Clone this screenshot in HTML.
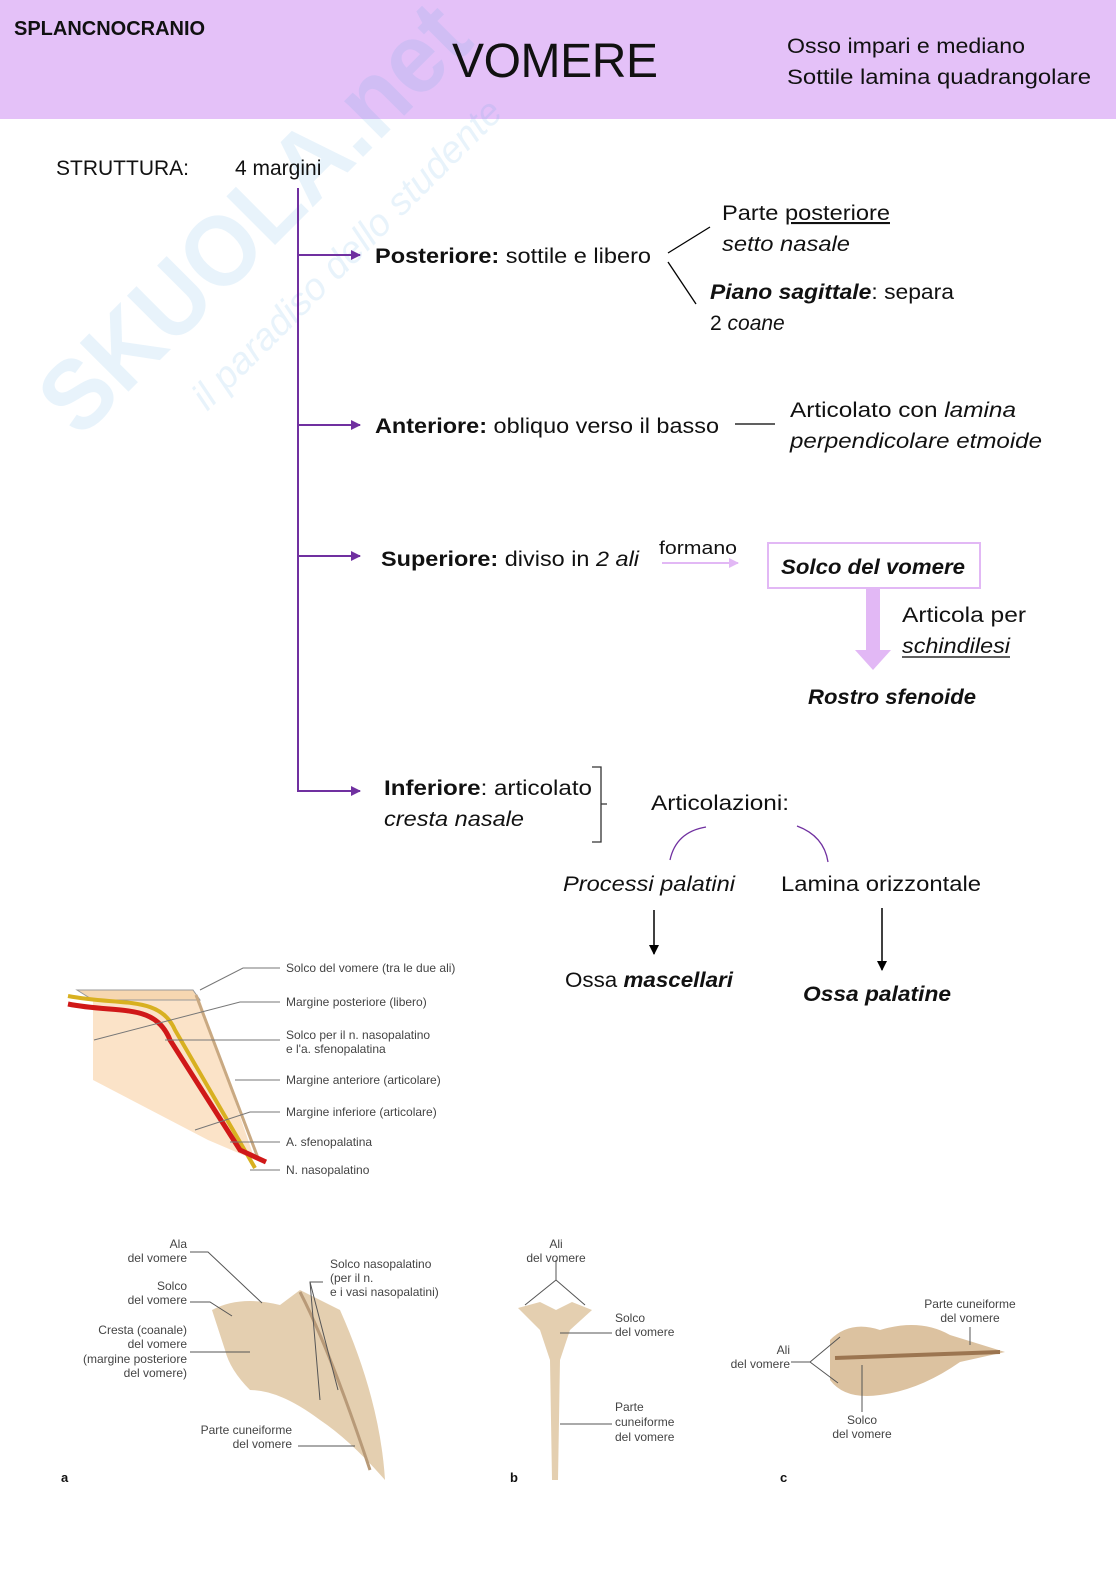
<!DOCTYPE html>
<html><head><meta charset="utf-8"><style>
html,body{margin:0;padding:0;background:#fff}
svg{display:block}
text{font-family:"Liberation Sans",sans-serif;fill:#111}
.b{font-size:21px}
.s{font-size:12px;fill:#444}
</style></head><body>
<svg width="1116" height="1578" viewBox="0 0 1116 1578" xmlns="http://www.w3.org/2000/svg">
<defs>
<marker id="pa" markerWidth="10" markerHeight="10" refX="9" refY="5" orient="auto" markerUnits="userSpaceOnUse"><path d="M0,0 L10,5 L0,10 z" fill="#7030a0"/></marker>
<marker id="ka" markerWidth="10" markerHeight="10" refX="9" refY="5" orient="auto" markerUnits="userSpaceOnUse"><path d="M0,0 L10,5 L0,10 z" fill="#000"/></marker>
<marker id="la" markerWidth="10" markerHeight="10" refX="9" refY="5" orient="auto" markerUnits="userSpaceOnUse"><path d="M0,0 L10,5 L0,10 z" fill="#e2b8f5"/></marker>
</defs>
<rect x="0" y="0" width="1116" height="119" fill="#e4c1f8"/>
<!-- watermark -->
<g transform="translate(80,440) rotate(-45)" opacity="0.12">
<text x="0" y="0" style="font-size:100px;font-weight:bold;fill:#4aa3df" textLength="560" lengthAdjust="spacingAndGlyphs">SKUOLA.net</text>
<text x="110" y="70" style="font-size:38px;font-style:italic;fill:#4aa3df">il paradiso dello studente</text>
</g>
<text x="14" y="35" style="font-size:20px;font-weight:bold">SPLANCNOCRANIO</text>
<text x="452" y="77" style="font-size:48px" textLength="206">VOMERE</text>
<text x="787" y="53" class="b" textLength="238" lengthAdjust="spacingAndGlyphs">Osso impari e mediano</text>
<text x="787" y="84" class="b" textLength="304" lengthAdjust="spacingAndGlyphs">Sottile lamina quadrangolare</text>
<text x="56" y="175" class="b">STRUTTURA:</text>
<text x="235" y="175" class="b">4 margini</text>
<!-- tree -->
<g stroke="#7030a0" stroke-width="2" fill="none">
<line x1="298" y1="188" x2="298" y2="792"/>
<line x1="298" y1="255" x2="360" y2="255" marker-end="url(#pa)"/>
<line x1="298" y1="425" x2="360" y2="425" marker-end="url(#pa)"/>
<line x1="298" y1="556" x2="360" y2="556" marker-end="url(#pa)"/>
<line x1="298" y1="791" x2="360" y2="791" marker-end="url(#pa)"/>
</g>
<text x="375" y="263" class="b" textLength="276" lengthAdjust="spacingAndGlyphs"><tspan font-weight="bold">Posteriore:</tspan> sottile e libero</text>
<line x1="668" y1="253" x2="710" y2="227" stroke="#000" stroke-width="1.3"/>
<line x1="668" y1="262" x2="696" y2="304" stroke="#000" stroke-width="1.3"/>
<text x="722" y="220" class="b" textLength="168" lengthAdjust="spacingAndGlyphs">Parte <tspan text-decoration="underline">posteriore</tspan></text>
<text x="722" y="251" class="b" font-style="italic" textLength="128" lengthAdjust="spacingAndGlyphs">setto nasale</text>
<text x="710" y="299" class="b" textLength="244" lengthAdjust="spacingAndGlyphs"><tspan font-weight="bold" font-style="italic">Piano sagittale</tspan>: separa</text>
<text x="710" y="330" class="b">2 <tspan font-style="italic">coane</tspan></text>
<text x="375" y="433" class="b" textLength="344" lengthAdjust="spacingAndGlyphs"><tspan font-weight="bold">Anteriore:</tspan> obliquo verso il basso</text>
<line x1="735" y1="424" x2="775" y2="424" stroke="#000" stroke-width="1.3"/>
<text x="790" y="417" class="b" textLength="226" lengthAdjust="spacingAndGlyphs">Articolato con <tspan font-style="italic">lamina</tspan></text>
<text x="790" y="448" class="b" font-style="italic" textLength="252" lengthAdjust="spacingAndGlyphs">perpendicolare etmoide</text>
<text x="381" y="566" class="b" textLength="258" lengthAdjust="spacingAndGlyphs"><tspan font-weight="bold">Superiore:</tspan> diviso in <tspan font-style="italic">2 ali</tspan></text>
<text x="659" y="554" style="font-size:18px" textLength="78" lengthAdjust="spacingAndGlyphs">formano</text>
<line x1="662" y1="563" x2="738" y2="563" stroke="#e2b8f5" stroke-width="2" marker-end="url(#la)"/>
<rect x="768" y="543" width="212" height="45" fill="none" stroke="#e2b8f5" stroke-width="2"/>
<text x="781" y="574" class="b" font-weight="bold" font-style="italic" textLength="184" lengthAdjust="spacingAndGlyphs">Solco del vomere</text>
<rect x="866" y="589" width="14" height="62" fill="#e2b8f5"/>
<path d="M855,650 L891,650 L873,670 z" fill="#e2b8f5"/>
<text x="902" y="622" class="b" textLength="124" lengthAdjust="spacingAndGlyphs">Articola per</text>
<text x="902" y="653" class="b" font-style="italic" textLength="108" lengthAdjust="spacingAndGlyphs">schindilesi</text>
<line x1="902" y1="657" x2="1010" y2="657" stroke="#000" stroke-width="1.2"/>
<text x="808" y="704" class="b" font-weight="bold" font-style="italic" textLength="168" lengthAdjust="spacingAndGlyphs">Rostro sfenoide</text>
<text x="384" y="795" class="b" textLength="208" lengthAdjust="spacingAndGlyphs"><tspan font-weight="bold">Inferiore</tspan>: articolato</text>
<text x="384" y="826" class="b" font-style="italic" textLength="140" lengthAdjust="spacingAndGlyphs">cresta nasale</text>
<path d="M592,767 L601,767 L601,842 L592,842 M601,804 L607,804" stroke="#333" stroke-width="1.3" fill="none"/>
<text x="651" y="810" class="b" textLength="138" lengthAdjust="spacingAndGlyphs">Articolazioni:</text>
<path d="M670,860 Q676,832 706,827" stroke="#7030a0" stroke-width="1.3" fill="none"/>
<path d="M797,826 Q824,836 828,862" stroke="#7030a0" stroke-width="1.3" fill="none"/>
<text x="563" y="891" class="b" font-style="italic" textLength="172" lengthAdjust="spacingAndGlyphs">Processi palatini</text>
<text x="781" y="891" class="b" textLength="200" lengthAdjust="spacingAndGlyphs">Lamina orizzontale</text>
<line x1="654" y1="910" x2="654" y2="954" stroke="#000" stroke-width="1.5" marker-end="url(#ka)"/>
<line x1="882" y1="908" x2="882" y2="970" stroke="#000" stroke-width="1.5" marker-end="url(#ka)"/>
<text x="565" y="987" class="b" textLength="168" lengthAdjust="spacingAndGlyphs">Ossa <tspan font-weight="bold" font-style="italic">mascellari</tspan></text>
<text x="803" y="1001" class="b" font-weight="bold" font-style="italic" textLength="148" lengthAdjust="spacingAndGlyphs">Ossa palatine</text>
<!-- figure 1 -->
<path d="M93,1000 L200,1000 L255,1160 L208,1140 L93,1080 z" fill="#fbe3c8"/>
<path d="M77,990 L193,990 L200,1000 L93,1000 z" fill="#f6d7b1" stroke="#999" stroke-width="1"/>
<line x1="196" y1="995" x2="258" y2="1158" stroke="#c9a982" stroke-width="3"/>
<path d="M68,996 C120,1006 160,995 175,1030 L255,1168" stroke="#d8b020" stroke-width="4" fill="none"/>
<path d="M68,1004 C118,1014 155,1002 170,1040 L240,1150 L266,1162" stroke="#d01818" stroke-width="5" fill="none"/>
<g stroke="#777" stroke-width="1" fill="none">
<path d="M200,990 L243,968 L280,968"/>
<path d="M94,1040 L240,1002 L280,1002"/>
<path d="M165,1040 L280,1040"/>
<path d="M235,1080 L280,1080"/>
<path d="M195,1130 L250,1112 L280,1112"/>
<path d="M230,1142 L280,1142"/>
<path d="M250,1170 L280,1170"/>
</g>
<text x="286" y="972" class="s">Solco del vomere (tra le due ali)</text>
<text x="286" y="1006" class="s">Margine posteriore (libero)</text>
<text x="286" y="1039" class="s">Solco per il n. nasopalatino</text>
<text x="286" y="1053" class="s">e l'a. sfenopalatina</text>
<text x="286" y="1084" class="s">Margine anteriore (articolare)</text>
<text x="286" y="1116" class="s">Margine inferiore (articolare)</text>
<text x="286" y="1146" class="s">A. sfenopalatina</text>
<text x="286" y="1174" class="s">N. nasopalatino</text>
<!-- figure a -->
<path d="M212,1310 Q240,1295 280,1305 L300,1290 L340,1310 Q380,1400 385,1480 Q350,1440 320,1420 Q280,1390 250,1390 Q230,1370 225,1350 z" fill="#e4cfb0"/>
<path d="M300,1292 Q330,1350 370,1470" stroke="#b89a78" stroke-width="3" fill="none"/>
<g stroke="#555" stroke-width="1" fill="none">
<path d="M190,1252 L208,1252 L262,1303"/>
<path d="M190,1302 L210,1302 L232,1316"/>
<path d="M190,1352 L250,1352"/>
<path d="M298,1446 L355,1446"/>
<path d="M323,1282 L310,1282 L320,1400"/>
<path d="M310,1282 L338,1390"/>
</g>
<text x="187" y="1248" class="s" text-anchor="end">Ala</text><text x="187" y="1262" class="s" text-anchor="end">del vomere</text>
<text x="187" y="1290" class="s" text-anchor="end">Solco</text><text x="187" y="1304" class="s" text-anchor="end">del vomere</text>
<text x="187" y="1334" class="s" text-anchor="end">Cresta (coanale)</text><text x="187" y="1348" class="s" text-anchor="end">del vomere</text>
<text x="187" y="1363" class="s" text-anchor="end">(margine posteriore</text><text x="187" y="1377" class="s" text-anchor="end">del vomere)</text>
<text x="292" y="1434" class="s" text-anchor="end">Parte cuneiforme</text><text x="292" y="1448" class="s" text-anchor="end">del vomere</text>
<text x="330" y="1268" class="s">Solco nasopalatino</text>
<text x="330" y="1282" class="s">(per il n.</text>
<text x="330" y="1296" class="s">e i vasi nasopalatini)</text>
<text x="61" y="1482" style="font-size:13px;font-weight:bold">a</text>
<!-- figure b -->
<path d="M518,1308 L540,1302 L556,1310 L572,1302 L592,1310 L570,1330 L560,1360 L558,1480 L552,1480 L550,1360 L540,1330 z" fill="#e4cfb0"/>
<g stroke="#555" stroke-width="1" fill="none">
<path d="M556,1260 L556,1280 L525,1305 M556,1280 L585,1305"/>
<path d="M560,1333 L612,1333"/>
<path d="M560,1424 L612,1424"/>
</g>
<text x="556" y="1248" class="s" text-anchor="middle">Ali</text>
<text x="556" y="1262" class="s" text-anchor="middle">del vomere</text>
<text x="615" y="1322" class="s">Solco</text><text x="615" y="1336" class="s">del vomere</text>
<text x="615" y="1411" class="s">Parte</text><text x="615" y="1426" class="s">cuneiforme</text><text x="615" y="1441" class="s">del vomere</text>
<text x="510" y="1482" style="font-size:13px;font-weight:bold">b</text>
<!-- figure c -->
<path d="M830,1340 Q850,1320 880,1330 Q920,1318 950,1335 L1005,1352 L960,1362 Q920,1390 880,1395 Q845,1400 830,1380 z" fill="#dcc2a0"/>
<path d="M835,1358 L1000,1352" stroke="#9c7550" stroke-width="4"/>
<g stroke="#555" stroke-width="1" fill="none">
<path d="M791,1362 L810,1362 L840,1337 M810,1362 L838,1383"/>
<path d="M862,1365 L862,1412"/>
<path d="M970,1327 L970,1345"/>
</g>
<text x="790" y="1354" class="s" text-anchor="end">Ali</text>
<text x="790" y="1368" class="s" text-anchor="end">del vomere</text>
<text x="862" y="1424" class="s" text-anchor="middle">Solco</text>
<text x="862" y="1438" class="s" text-anchor="middle">del vomere</text>
<text x="970" y="1308" class="s" text-anchor="middle">Parte cuneiforme</text>
<text x="970" y="1322" class="s" text-anchor="middle">del vomere</text>
<text x="780" y="1482" style="font-size:13px;font-weight:bold">c</text>
</svg>
</body></html>
